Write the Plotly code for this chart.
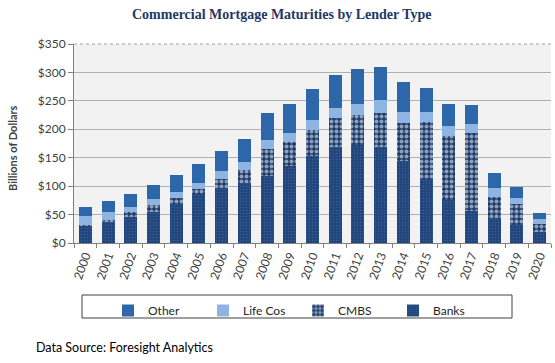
import plotly.graph_objects as go

years = [str(y) for y in range(2000, 2021)]
banks = [31, 38, 45, 55, 69, 86, 96, 106, 118, 135, 153, 169, 173, 169, 144, 112, 76, 56, 44, 31, 20]
cmbs = [1, 2, 9, 11, 10, 9, 17, 22, 48, 42, 45, 51, 53, 60, 67, 100, 113, 138, 37, 38, 14]
life_cos = [15, 14, 9, 11, 11, 11, 13, 14, 15, 17, 19, 18, 19, 22, 20, 18, 17, 16, 15, 11, 8]
other = [16, 20, 23, 25, 30, 33, 35, 41, 47, 51, 54, 57, 61, 58, 52, 42, 39, 33, 27, 19, 10]
y_ticks = [0, 50, 100, 150, 200, 250, 300, 350]

W, H = 555, 363
L, R, T, B = 74, 4, 44, 120
pw, ph = W - L - R, H - T - B

def px_x(x):
    return (x - L) / pw

def px_y(y):
    return (H - B - y) / ph

fig = go.Figure()
fig.add_trace(go.Bar(name="Banks", x=years, y=banks,
                     marker=dict(color="#22467b", line=dict(width=0),
                                 pattern=dict(shape=".", fgcolor="#4f80c4", size=3, solidity=0.15))))
fig.add_trace(go.Bar(name="CMBS", x=years, y=cmbs,
                     marker=dict(color="#1f3e6e", line=dict(width=0),
                                 pattern=dict(shape=".", fgcolor="#ffffff", size=5, solidity=0.5))))
fig.add_trace(go.Bar(name="Life Cos", x=years, y=life_cos,
                     marker=dict(color="#8eb4e3", line=dict(width=0))))
fig.add_trace(go.Bar(name="Other", x=years, y=other,
                     marker=dict(color="#2e66aa", line=dict(width=0))))

font_main = "Lato, 'Open Sans', sans-serif"

fig.update_layout(
    width=W, height=H,
    margin=dict(l=L, r=R, t=T, b=B, autoexpand=False),
    barmode="stack", bargap=0.43,
    paper_bgcolor="white", plot_bgcolor="#f2f2f2",
    font=dict(family=font_main, size=12, color="#404040"),
    showlegend=True,
    legend=dict(orientation="h", traceorder="reversed", x=px_x(108), xanchor="left",
                y=px_y(296), yanchor="top", entrywidth=50, entrywidthmode="pixels",
                itemwidth=30, font=dict(size=12, color="#262626"), bgcolor="rgba(0,0,0,0)"),
    xaxis=dict(type="category", tickangle=-70, tickson="boundaries", ticks="outside",
               ticklen=4, tickcolor="#808080", showline=True, linecolor="#808080",
               showgrid=False, automargin=False, tickfont=dict(size=12, color="#404040")),
    yaxis=dict(range=[0, 350], tickvals=y_ticks, ticktext=["$" + str(v) for v in y_ticks],
               showgrid=True, gridcolor="#b0b0b0", gridwidth=1, ticks="outside", ticklen=5,
               tickcolor="#808080", showline=True, linecolor="#808080", zeroline=False,
               automargin=False, tickfont=dict(size=12, color="#404040")),
    annotations=[
        dict(text="<b>Commercial Mortgage Maturities by Lender Type</b>", xref="paper", yref="paper",
             x=px_x(282), y=px_y(15), xanchor="center", yanchor="middle", showarrow=False,
             font=dict(family="'Liberation Serif', 'Times New Roman', serif", size=14, color="#1f3864")),
        dict(text="<b>Billions of Dollars</b>", xref="paper", yref="paper", textangle=-90,
             x=px_x(12), y=px_y(148), xanchor="center", yanchor="middle", showarrow=False,
             font=dict(size=11, color="#404040")),
        dict(text="Data Source: Foresight Analytics", xref="paper", yref="paper",
             x=px_x(34), y=px_y(347), xanchor="left", yanchor="middle", showarrow=False,
             font=dict(size=12.5, color="#000000")),
    ],
    shapes=[
        dict(type="rect", xref="paper", yref="paper", x0=px_x(82), x1=px_x(512),
             y0=px_y(295), y1=px_y(318), fillcolor="white", layer="below",
             line=dict(color="#404040", width=1)),
        dict(type="line", xref="paper", yref="paper", x0=0, x1=1, y0=1, y1=1,
             line=dict(color="#a0a0a0", width=1, dash="dot")),
    ],
)

fig.write_html("out.html", config={"displayModeBar": False},
               post_script="document.body.style.margin='0';")
